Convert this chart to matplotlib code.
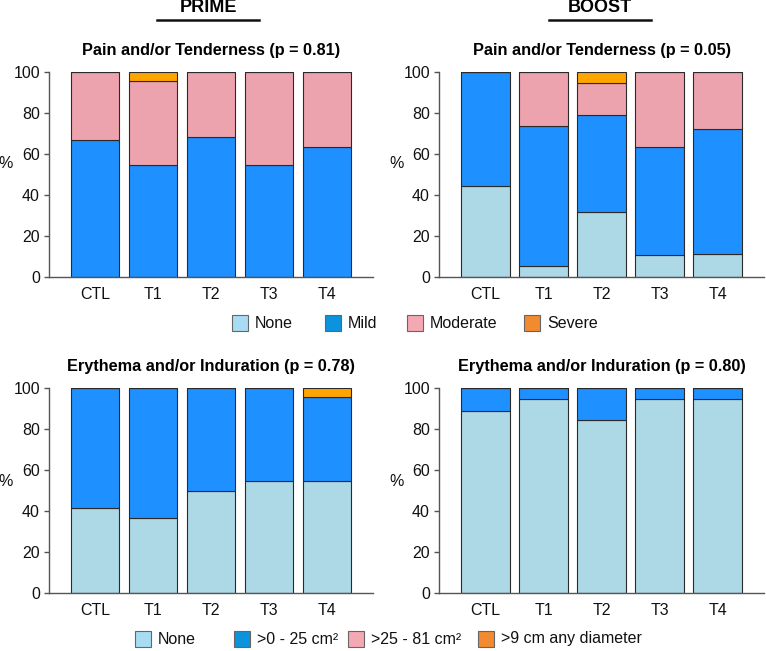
import matplotlib
matplotlib.use("Agg")
import matplotlib.pyplot as plt
from matplotlib.patches import Rectangle
from matplotlib.lines import Line2D
import numpy as np

plt.rcParams['font.family'] = ['Liberation Sans', 'DejaVu Sans']

groups = ["CTL", "T1", "T2", "T3", "T4"]

# Pain and/or Tenderness
pain_levels = ["None", "Mild", "Moderate", "Severe"]
pain_prime = {
    "None":     [0.0, 0.0, 0.0, 0.0, 0.0],
    "Mild":     [66.7, 54.5, 68.2, 54.5, 63.6],
    "Moderate": [33.3, 40.9, 31.8, 45.5, 36.4],
    "Severe":   [0.0, 4.6, 0.0, 0.0, 0.0],
}
pain_boost = {
    "None":     [44.4, 5.3, 31.6, 10.5, 11.1],
    "Mild":     [55.6, 68.4, 47.3, 52.7, 61.1],
    "Moderate": [0.0, 26.3, 15.8, 36.8, 27.8],
    "Severe":   [0.0, 0.0, 5.3, 0.0, 0.0],
}

# Erythema and/or Induration
ery_levels = ["None", ">0 - 25 cm²", ">25 - 81 cm²", ">9 cm any diameter"]
ery_prime = {
    "None": [41.7, 36.4, 50.0, 54.5, 54.5],
    "Small": [58.3, 63.6, 50.0, 45.5, 41.0],
    "Medium": [0.0, 0.0, 0.0, 0.0, 0.0],
    "Large": [0.0, 0.0, 0.0, 0.0, 4.5],
}
ery_boost = {
    "None": [88.9, 94.7, 84.2, 94.7, 94.4],
    "Small": [11.1, 5.3, 15.8, 5.3, 5.6],
    "Medium": [0.0, 0.0, 0.0, 0.0, 0.0],
    "Large": [0.0, 0.0, 0.0, 0.0, 0.0],
}

titles = ["Pain and/or Tenderness (p = 0.81)", "Pain and/or Tenderness (p = 0.05)",
          "Erythema and/or Induration (p = 0.78)", "Erythema and/or Induration (p = 0.80)"]
headers = ["PRIME", "BOOST"]

bar_colors = ["#add8e6", "#1e90ff", "#eca3ad", "#ffa500"]
legend_colors = ["#a9dcf2", "#0b93dd", "#f4a8b3", "#f28a30"]

W, H = 766, 651
fig = plt.figure(figsize=(W / 100, H / 100), dpi=100)

def ax_at(x0, x1, ytop, ybot):
    return fig.add_axes([x0 / W, 1 - ybot / H, (x1 - x0) / W, (ybot - ytop) / H])

axes = [ax_at(49, 373, 72, 277), ax_at(439, 764, 72, 277),
        ax_at(49, 373, 388, 593), ax_at(439, 764, 388, 593)]
datasets = [pain_prime, pain_boost, ery_prime, ery_boost]
title_y = [51, 51, 367, 367]
pct_pos = [(6, 164), (397, 164), (6, 482), (397, 482)]

x = np.arange(len(groups))
for ax, data, title, ty, (px, py) in zip(axes, datasets, titles, title_y, pct_pos):
    bottom = np.zeros(len(groups))
    for key, col in zip(data.keys(), bar_colors):
        vals = np.array(data[key])
        ax.bar(x, vals, width=0.83, bottom=bottom, color=col,
               edgecolor="#2a2a2a", linewidth=0.8)
        bottom += vals
    ax.set_xlim(-0.8, 4.8)
    ax.set_ylim(0, 100)
    ax.set_yticks(range(0, 101, 20))
    ax.set_xticks(x)
    ax.set_xticklabels(groups)
    for s in ["top", "right"]:
        ax.spines[s].set_visible(False)
    for s in ["left", "bottom"]:
        ax.spines[s].set_color("#555555")
        ax.spines[s].set_linewidth(1.0)
    ax.tick_params(axis="y", length=3.5, width=1.0, color="#555555", pad=3,
                   labelsize=11.5, labelcolor="#111111")
    ax.tick_params(axis="x", length=0, pad=7.5, labelsize=11.5, labelcolor="#111111")
    bb = ax.get_position()
    fig.text(bb.x0 + bb.width / 2, 1 - ty / H, title, ha="center", va="center",
             fontsize=11.7, fontweight="bold")
    fig.text(px / W, 1 - py / H, "%", ha="center", va="center", fontsize=11.5,
             color="#111111")

# Headers
for cx, h in zip([208, 600], headers):
    fig.text(cx / W, 1 - 8 / H, h, ha="center", va="center", fontsize=13, fontweight="bold")
    fig.add_artist(Line2D([(cx - 51) / W, (cx + 51) / W], [1 - 20 / H, 1 - 20 / H],
                          color="#111111", linewidth=1.8))

def legend_row(labels, box_xs, ycenter):
    for lab, bx, col in zip(labels, box_xs, legend_colors):
        fig.add_artist(Rectangle((bx / W, 1 - (ycenter + 8) / H), 16 / W, 16 / H,
                                 facecolor=col, edgecolor="#666666", linewidth=0.8))
        fig.text((bx + 23) / W, 1 - ycenter / H, lab, ha="left", va="center",
                 fontsize=11.5, color="#111111")

legend_row(pain_levels, [232, 325, 407, 524], 323)
legend_row(ery_levels, [135, 234, 348, 478], 639)

fig.savefig("out.png", dpi=100)
